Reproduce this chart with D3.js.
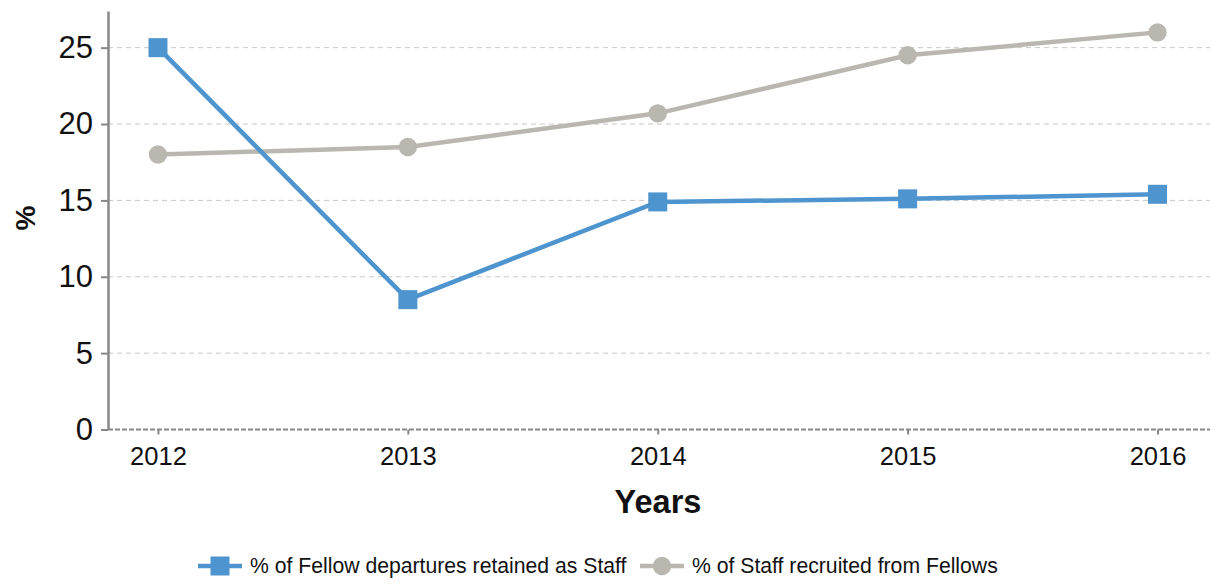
<!DOCTYPE html>
<html>
<head>
<meta charset="utf-8">
<script src="https://cdn.jsdelivr.net/npm/d3@7"></script>
<style>
  body { margin: 0; background: #fff; }
  svg { font-family: "Liberation Sans", Arial, sans-serif; }
</style>
</head>
<body>
<div class="wrapper"></div>
<script>
const width = 1211;
const height = 586;

const years = [2012, 2013, 2014, 2015, 2016];
const retained = [25, 8.5, 14.9, 15.1, 15.4];
const recruited = [18.0, 18.5, 20.7, 24.5, 26.0];
const yTicks = [0, 5, 10, 15, 20, 25];
const seriesNames = ["% of Fellow departures retained as Staff", "% of Staff recruited from Fellows"];
const colors = ["#4e94cf", "#bab7b0"];

const svg = d3
  .select(".wrapper")
  .append("svg")
  .attr("width", width)
  .attr("height", height);

// plot area
const x = d3.scaleLinear().domain([2011.8, 2016.21]).range([108, 1210]);
const y = d3.scaleLinear().domain([0, 27.4]).range([429.5, 11]);

// grid lines
svg
  .append("g")
  .selectAll()
  .data(yTicks.filter((t) => t > 0))
  .join("line")
  .attr("x1", 108)
  .attr("x2", 1210)
  .attr("y1", (d) => y(d))
  .attr("y2", (d) => y(d))
  .attr("stroke", "#c8c8c8")
  .attr("stroke-width", 1)
  .attr("stroke-dasharray", "5,4");

// x axis (dashed baseline)
const xAxis = svg
  .append("g")
  .attr("transform", `translate(0,${y(0)})`)
  .call(d3.axisBottom(x).tickValues(years).tickFormat(d3.format("d")).tickSize(5).tickPadding(12));
xAxis.select(".domain").remove();
xAxis.selectAll(".tick line").attr("stroke", "#888").attr("stroke-width", 2);
xAxis.selectAll("text").attr("font-size", 25.5).attr("fill", "#111").attr("font-family", null);
svg
  .append("line")
  .attr("x1", 108)
  .attr("x2", 1210)
  .attr("y1", y(0))
  .attr("y2", y(0))
  .attr("stroke", "#888")
  .attr("stroke-width", 2)
  .attr("stroke-dasharray", "5,2");

// y axis
const yAxis = svg
  .append("g")
  .attr("transform", "translate(108,0)")
  .call(d3.axisLeft(y).tickValues(yTicks).tickSize(7).tickPadding(8).tickSizeOuter(0));
yAxis.select(".domain").attr("stroke", "#888").attr("stroke-width", 2.5);
yAxis.selectAll(".tick line").attr("stroke", "#888").attr("stroke-width", 2);
yAxis.selectAll("text").attr("font-size", 31).attr("fill", "#111").attr("font-family", null);

// axis titles
svg
  .append("text")
  .attr("x", 658)
  .attr("y", 513)
  .attr("text-anchor", "middle")
  .attr("font-size", 32.5)
  .attr("font-weight", "bold")
  .attr("fill", "#111")
  .text("Years");

svg
  .append("text")
  .attr("transform", "translate(35,218) rotate(-90)")
  .attr("text-anchor", "middle")
  .attr("font-size", 28)
  .attr("font-weight", "bold")
  .attr("fill", "#111")
  .text("%");

const line = d3
  .line()
  .x((d) => x(d.year))
  .y((d) => y(d.value));

const series = [retained, recruited].map((vals, i) => ({
  name: seriesNames[i],
  color: colors[i],
  points: years.map((yr, j) => ({ year: yr, value: vals[j] })),
}));

// recruited drawn first so blue sits on top
[series[1], series[0]].forEach((s) => {
  svg
    .append("path")
    .datum(s.points)
    .attr("fill", "none")
    .attr("stroke", s.color)
    .attr("stroke-width", 4.5)
    .attr("d", line);
});

svg
  .append("g")
  .selectAll()
  .data(series[1].points)
  .join("circle")
  .attr("cx", (d) => x(d.year))
  .attr("cy", (d) => y(d.value))
  .attr("r", 9.2)
  .attr("fill", colors[1]);

svg
  .append("g")
  .selectAll()
  .data(series[0].points)
  .join("rect")
  .attr("x", (d) => x(d.year) - 9.5)
  .attr("y", (d) => y(d.value) - 9.5)
  .attr("width", 19)
  .attr("height", 19)
  .attr("fill", colors[0]);

// legend
const legend = svg.append("g").attr("transform", "translate(0,566)");
const legendX = [198, 640];
series.forEach((s, i) => {
  const g = legend.append("g").attr("transform", `translate(${legendX[i]},0)`);
  g.append("line").attr("x1", 0).attr("x2", 44).attr("stroke", s.color).attr("stroke-width", 4.5);
  if (i === 0) {
    g.append("rect").attr("x", 12.5).attr("y", -9.5).attr("width", 19).attr("height", 19).attr("fill", s.color);
  } else {
    g.append("circle").attr("cx", 22).attr("r", 9.2).attr("fill", s.color);
  }
  g.append("text")
    .attr("x", 52)
    .attr("dy", "0.35em")
    .attr("font-size", 21.2)
    .attr("fill", "#111")
    .text(s.name);
});
</script>
</body>
</html>
